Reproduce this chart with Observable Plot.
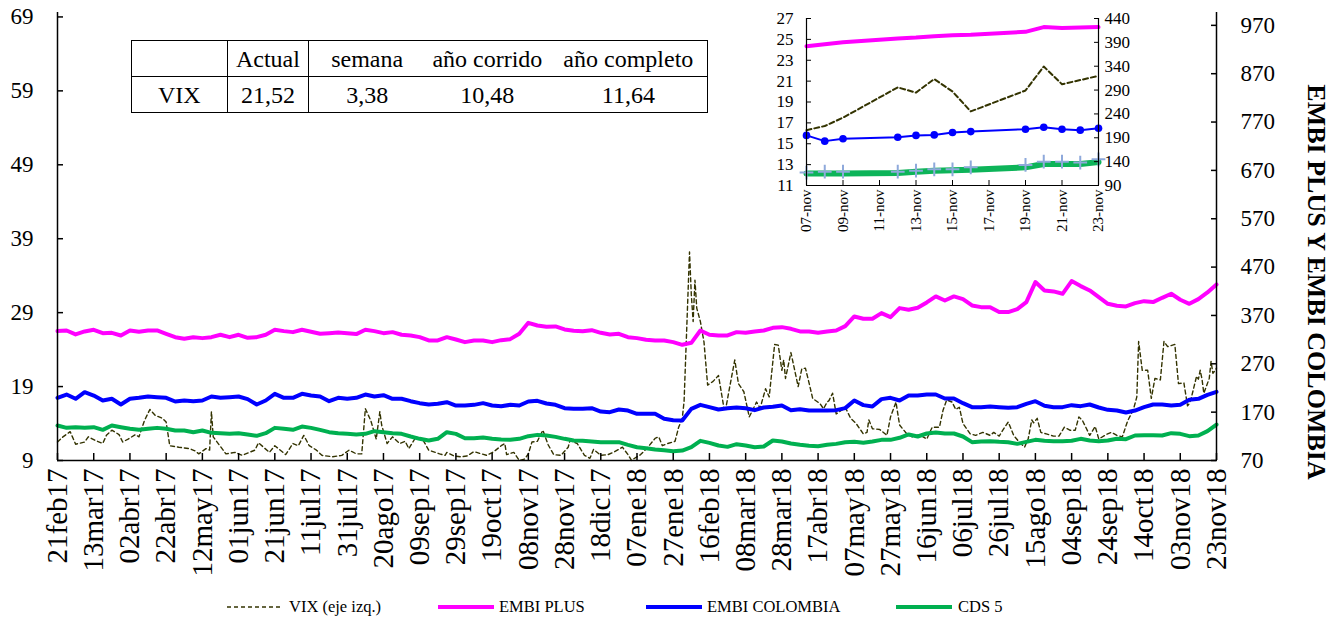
<!DOCTYPE html>
<html><head><meta charset="utf-8">
<script src="https://cdn.jsdelivr.net/npm/d3@7"></script>
<script src="https://cdn.jsdelivr.net/npm/@observablehq/plot@0.6"></script>
<style>
body{margin:0;background:#fff;font-family:"Liberation Serif","Times New Roman",serif;color:#000}
#wrap{position:relative;width:1339px;height:621px;overflow:hidden;background:#fff}
#main{position:absolute;left:0;top:0}
#inset{position:absolute;left:760px;top:0}
#tbl{position:absolute;left:131px;top:40px;width:577px;height:73px;border-collapse:collapse;border:1.5px solid #000;font-size:24px;background:#fff}
#tbl td{text-align:center;padding:0;line-height:34px;white-space:nowrap}
#rtitle{position:absolute;left:1316px;top:282px;transform:translate(-50%,-50%) rotate(90deg);font-weight:bold;font-size:26px;white-space:nowrap}
.lg{position:absolute;top:597px;height:20px}
.lgt{position:absolute;top:597px;font-size:16.5px;line-height:20px;white-space:nowrap}
</style></head><body><div id="wrap"></div>
<script>
// ---------------- DATA ----------------
const gridDates = ["2017-02-21","2017-02-26","2017-03-03","2017-03-08","2017-03-13","2017-03-18","2017-03-23","2017-03-28","2017-04-02","2017-04-07","2017-04-12","2017-04-17","2017-04-22","2017-04-27","2017-05-02","2017-05-07","2017-05-12","2017-05-17","2017-05-22","2017-05-27","2017-06-01","2017-06-06","2017-06-11","2017-06-16","2017-06-21","2017-06-26","2017-07-01","2017-07-06","2017-07-11","2017-07-16","2017-07-21","2017-07-26","2017-07-31","2017-08-05","2017-08-10","2017-08-15","2017-08-20","2017-08-25","2017-08-30","2017-09-04","2017-09-09","2017-09-14","2017-09-19","2017-09-24","2017-09-29","2017-10-04","2017-10-09","2017-10-14","2017-10-19","2017-10-24","2017-10-29","2017-11-03","2017-11-08","2017-11-13","2017-11-18","2017-11-23","2017-11-28","2017-12-03","2017-12-08","2017-12-13","2017-12-18","2017-12-23","2017-12-28","2018-01-02","2018-01-07","2018-01-12","2018-01-17","2018-01-22","2018-01-27","2018-02-01","2018-02-06","2018-02-11","2018-02-16","2018-02-21","2018-02-26","2018-03-03","2018-03-08","2018-03-13","2018-03-18","2018-03-23","2018-03-28","2018-04-02","2018-04-07","2018-04-12","2018-04-17","2018-04-22","2018-04-27","2018-05-02","2018-05-07","2018-05-12","2018-05-17","2018-05-22","2018-05-27","2018-06-01","2018-06-06","2018-06-11","2018-06-16","2018-06-21","2018-06-26","2018-07-01","2018-07-06","2018-07-11","2018-07-16","2018-07-21","2018-07-26","2018-07-31","2018-08-05","2018-08-10","2018-08-15","2018-08-20","2018-08-25","2018-08-30","2018-09-04","2018-09-09","2018-09-14","2018-09-19","2018-09-24","2018-09-29","2018-10-04","2018-10-09","2018-10-14","2018-10-19","2018-10-24","2018-10-29","2018-11-03","2018-11-08","2018-11-13","2018-11-18","2018-11-23"];

const embiPlus = [337.6,338.9,330.7,336.9,340.3,333.4,334.1,328.6,338.9,336.2,338.9,338.9,332.0,325.1,321.7,325.1,323.1,325.1,330.0,325.1,330.0,323.8,325.1,330.0,340.3,337.6,335.5,340.3,336.2,332.0,333.4,334.8,333.4,331.4,340.3,337.6,333.4,335.5,330.0,328.6,325.1,318.2,318.2,
325.1,320.3,314.8,318.2,318.2,314.8,318.9,321.0,332.0,354.8,349.3,346.5,347.2,341.0,338.2,337.5,339.6,334.1,330.6,332.0,325.1,323.1,319.6,318.2,318.2,314.8,309.3,313.4,338.9,330.0,328.6,328.6,335.5,334.1,336.9,338.9,344.4,345.8,342.4,336.9,336.9,334.1,336.9,
339.0,347.9,367.9,363.1,363.1,374.8,366.5,385.2,381.7,385.9,396.9,409.3,401.0,409.3,403.8,390.7,387.2,387.2,376.9,376.9,383.1,397.6,439.0,421.7,419.7,414.8,441.0,430.7,421.7,407.9,394.1,390.0,388.6,395.5,399.6,397.6,406.5,414.8,402.4,394.1,403.8,417.6,434.1];

const embiCol = [199.6,206.5,197.6,211.3,204.4,194.1,197.6,185.8,197.6,199.6,202.4,201.0,199.6,192.0,194.1,192.7,194.1,202.4,199.6,201.0,202.4,196.9,185.8,194.1,207.9,199.6,199.6,207.9,204.4,202.4,192.7,199.6,197.6,199.6,206.5,202.4,205.1,197.6,197.6,192.7,188.6,185.8,187.2,
190.6,183.7,183.7,185.1,188.6,183.7,182.4,185.1,183.7,192.0,193.4,187.9,185.1,178.2,176.8,176.8,178.2,171.3,170.0,175.5,173.4,166.5,166.5,166.5,156.2,153.4,152.7,176.8,185.1,180.3,175.5,178.2,179.6,178.2,174.1,179.6,181.0,183.7,174.1,176.2,173.4,173.4,173.4,
174.1,178.3,194.1,184.5,181.7,196.9,199.6,194.1,204.5,204.5,206.5,206.5,198.3,198.3,188.6,180.3,180.3,181.7,180.3,178.9,180.3,187.2,192.7,183.1,180.3,180.3,184.5,182.4,185.8,179.6,174.8,173.4,169.3,173.4,180.3,185.8,185.8,183.8,185.2,195.5,197.6,205.8,212.0];

const cds5 = [142.4,137.5,138.9,137.5,138.9,133.4,142.4,138.9,135.5,133.4,135.5,137.5,135.5,132.0,132.0,128.6,132.0,127.2,126.5,125.1,126.5,123.7,121.0,126.5,137.5,135.5,133.4,140.3,137.5,133.4,128.6,126.5,125.1,123.7,125.1,130.6,128.6,126.5,125.1,119.6,114.8,111.3,114.8,
128.6,125.1,116.1,116.1,117.5,114.8,113.4,112.7,114.8,120.3,123.0,121.7,118.9,114.8,111.3,110.6,109.3,107.9,107.9,107.9,102.4,97.5,95.5,92.7,91.3,89.3,90.6,97.5,110.6,106.5,101.0,98.2,103.7,101.0,97.5,98.9,111.3,109.3,105.1,102.4,100.3,99.6,102.4,
104.4,107.9,108.6,106.5,109.3,112.7,112.7,116.9,123.8,119.6,125.8,127.9,125.8,125.8,119.6,107.9,109.3,110.0,108.6,107.9,104.4,108.6,112.7,110.7,110.0,110.0,110.7,114.8,111.3,110.0,111.3,114.8,114.1,121.7,122.4,122.4,121.7,126.5,125.1,120.3,121.7,130.7,144.4];

const vixDates = ["2017-02-21","2017-02-24","2017-02-28","2017-03-03","2017-03-08","2017-03-10","2017-03-14","2017-03-18","2017-03-20","2017-03-23","2017-03-27","2017-03-29","2017-04-01","2017-04-05","2017-04-07","2017-04-10","2017-04-13","2017-04-16","2017-04-20","2017-04-22","2017-04-24","2017-04-29","2017-05-05","2017-05-08","2017-05-10","2017-05-14","2017-05-16","2017-05-17","2017-05-18","2017-05-25","2017-05-30","2017-06-03","2017-06-10","2017-06-12","2017-06-18","2017-06-21","2017-06-27","2017-07-01","2017-07-04","2017-07-07","2017-07-10","2017-07-14","2017-07-17","2017-07-23","2017-07-28","2017-08-01","2017-08-05","2017-08-08","2017-08-10","2017-08-13","2017-08-16","2017-08-18","2017-08-19","2017-08-22","2017-08-25","2017-08-29","2017-09-01","2017-09-03","2017-09-07","2017-09-11","2017-09-14","2017-09-20","2017-09-23","2017-09-24","2017-09-28","2017-10-02","2017-10-05","2017-10-09","2017-10-13","2017-10-16","2017-10-20","2017-10-24","2017-10-26","2017-10-27","2017-10-31","2017-11-03","2017-11-06","2017-11-08","2017-11-10","2017-11-13","2017-11-16","2017-11-19","2017-11-22","2017-11-26","2017-11-30","2017-12-01","2017-12-05","2017-12-09","2017-12-12","2017-12-14","2017-12-18","2017-12-22","2017-12-25","2017-12-30","2018-01-02","2018-01-04","2018-01-05","2018-01-09","2018-01-13","2018-01-17","2018-01-19","2018-01-21","2018-01-24","2018-01-28","2018-01-30","2018-02-01","2018-02-02","2018-02-05","2018-02-06","2018-02-07","2018-02-08","2018-02-09","2018-02-11","2018-02-13","2018-02-15","2018-02-18","2018-02-21","2018-02-24","2018-02-25","2018-02-27","2018-03-02","2018-03-04","2018-03-07","2018-03-10","2018-03-14","2018-03-16","2018-03-19","2018-03-21","2018-03-24","2018-03-26","2018-03-28","2018-03-29","2018-03-30","2018-04-02","2018-04-06","2018-04-08","2018-04-10","2018-04-12","2018-04-14","2018-04-18","2018-04-20","2018-04-22","2018-04-23","2018-04-25","2018-04-27","2018-04-30","2018-05-02","2018-05-05","2018-05-08","2018-05-12","2018-05-14","2018-05-15","2018-05-17","2018-05-21","2018-05-25","2018-05-27","2018-05-30","2018-06-01","2018-06-05","2018-06-08","2018-06-12","2018-06-16","2018-06-19","2018-06-23","2018-06-25","2018-06-27","2018-06-30","2018-07-02","2018-07-04","2018-07-06","2018-07-10","2018-07-13","2018-07-17","2018-07-21","2018-07-23","2018-07-26","2018-07-29","2018-07-31","2018-08-03","2018-08-06","2018-08-09","2018-08-11","2018-08-13","2018-08-14","2018-08-16","2018-08-18","2018-08-21","2018-08-25","2018-08-28","2018-08-31","2018-09-03","2018-09-06","2018-09-08","2018-09-10","2018-09-14","2018-09-17","2018-09-19","2018-09-23","2018-09-26","2018-09-29","2018-10-02","2018-10-05","2018-10-08","2018-10-10","2018-10-11","2018-10-13","2018-10-16","2018-10-18","2018-10-20","2018-10-23","2018-10-25","2018-10-27","2018-10-31","2018-11-02","2018-11-05","2018-11-07","2018-11-08","2018-11-09","2018-11-12","2018-11-13","2018-11-14","2018-11-15","2018-11-16","2018-11-19","2018-11-20","2018-11-21","2018-11-22","2018-11-23"];
const vixValues = [11.5,12.2,12.9,11.2,11.5,12.2,11.7,11.3,12.4,13.1,12.5,11.5,11.9,12.5,12.2,14.4,15.9,15.1,14.7,14.2,11.0,10.8,10.6,10.3,9.9,10.6,10.4,15.6,12.2,9.9,10.1,9.7,10.4,11.4,10.1,11.0,9.8,11.3,11.0,12.4,11.0,10.4,9.7,9.5,9.7,10.4,9.9,9.9,16.0,14.4,11.9,15.6,13.8,11.3,12.2,11.3,11.6,10.6,12.2,11.7,10.4,9.9,9.7,10.1,9.6,9.5,9.6,10.2,9.9,9.7,10.2,11.0,11.3,9.8,10.1,9.0,9.2,9.9,11.5,11.6,13.1,11.1,9.8,9.7,10.8,11.7,11.3,9.7,9.3,10.5,9.7,9.8,10.1,10.8,9.8,9.0,9.2,9.8,10.8,12.0,12.2,11.0,11.3,11.6,13.5,14.7,17.0,37.2,31.4,27.8,33.4,29.6,27.8,25.0,19.2,19.7,20.5,16.1,16.0,18.7,22.6,19.4,18.3,14.9,16.9,16.1,18.7,17.6,24.7,24.6,21.2,22.6,20.1,23.6,19.0,21.4,21.5,19.5,17.4,16.7,16.0,16.9,17.1,18.1,15.3,15.8,16.2,14.7,14.0,12.6,12.8,14.5,13.3,13.2,12.4,14.9,16.9,13.8,12.6,12.2,12.5,11.9,13.5,13.5,15.8,17.2,16.9,15.9,16.2,14.0,12.6,12.4,12.8,12.4,12.8,12.3,13.5,14.2,12.4,11.5,10.8,11.9,14.5,14.1,14.7,12.8,12.6,12.3,12.3,13.5,13.1,13.1,14.9,14.4,12.4,13.6,11.9,12.5,12.8,12.4,12.2,14.4,15.8,17.6,25.1,21.2,21.2,17.4,20.1,19.9,25.1,24.4,24.7,19.4,19.5,16.4,16.7,17.4,20.4,20.0,21.2,20.0,18.1,20.1,22.4,20.8,21.1,21.5];

const leftTicks = [9, 19, 29, 39, 49, 59, 69];
const rightTicks = [70, 170, 270, 370, 470, 570, 670, 770, 870, 970];
const xTickDates = ["2017-02-21","2017-03-13","2017-04-02","2017-04-22","2017-05-12","2017-06-01","2017-06-21","2017-07-11","2017-07-31","2017-08-20","2017-09-09","2017-09-29","2017-10-19","2017-11-08","2017-11-28","2017-12-18","2018-01-07","2018-01-27","2018-02-16","2018-03-08","2018-03-28","2018-04-17","2018-05-07","2018-05-27","2018-06-16","2018-07-06","2018-07-26","2018-08-15","2018-09-04","2018-09-24","2018-10-14","2018-11-03","2018-11-23"];
const xTickLabels = ["21feb17","13mar17","02abr17","22abr17","12may17","01jun17","21jun17","11jul17","31jul17","20ago17","09sep17","29sep17","19oct17","08nov17","28nov17","18dic17","07ene18","27ene18","16feb18","08mar18","28mar18","17abr18","07may18","27may18","16jun18","06jul18","26jul18","15ago18","04sep18","24sep18","14oct18","03nov18","23nov18"];

// inset (last days of November 2018)
const insetDates = ["2018-11-07","2018-11-08","2018-11-09","2018-11-12","2018-11-13","2018-11-14","2018-11-15","2018-11-16","2018-11-19","2018-11-20","2018-11-21","2018-11-22","2018-11-23"];
const insetVix = [16.3,16.7,17.5,20.4,19.9,21.2,20.0,18.1,20.1,22.4,20.7,21.1,21.5];
const insetEmbiPlus = [382,386,390,398,400,403,405,406,412,422,420,421,422];
const insetEmbiCol = [195,183,188,191,195,196,201,203,208,212,208,206,210];
const insetCds = [115,115,115,116,119,121,122,123,128,135,135,135,139];
const insetCdsMarks = [117,119,119,119,121,124,124,128,133,140,140,138,145];
const insetLeftTicks = [11,13,15,17,19,21,23,25,27];
const insetRightTicks = [90,140,190,240,290,340,390,440];
const insetTickDates = ["2018-11-07","2018-11-09","2018-11-11","2018-11-13","2018-11-15","2018-11-17","2018-11-19","2018-11-21","2018-11-23"];
const insetTickLabels = ["07-nov","09-nov","11-nov","13-nov","15-nov","17-nov","19-nov","21-nov","23-nov"];

const tableHeader = ["", "Actual", "semana", "año corrido", "año completo"];
const tableRow = ["VIX", "21,52", "3,38", "10,48", "11,64"];

const legendItems = [
  {label: "VIX (eje izq.)", color: "#333300", dash: "4,3", width: 1.5},
  {label: "EMBI PLUS", color: "#FF00FF", dash: null, width: 4},
  {label: "EMBI COLOMBIA", color: "#0000FF", dash: null, width: 4},
  {label: "CDS 5", color: "#00B050", dash: null, width: 4}
];
const rightTitle = "EMBI PLUS Y EMBI COLOMBIA";

// ---------------- BUILD ----------------
const FONT = '"Liberation Serif","Times New Roman",serif';
const parse = s => new Date(s + "T00:00:00Z");
const K = 15.29;                       // right-axis units per left-axis unit
const R = r => 9 + (r - 70) / K;
const Rinv = v => 70 + (v - 9) * K;

const main = gridDates.map((d, i) => ({date: parse(d), plus: embiPlus[i], col: embiCol[i], cds: cds5[i]}));
const vix = vixDates.map((d, i) => ({date: parse(d), v: vixValues[i]}));
const xDomain = [parse(gridDates[0]), parse(gridDates[gridDates.length - 1])];
const xt = xTickDates.map(parse);
const xLabel = new Map(xt.map((d, i) => [+d, xTickLabels[i]]));
const AX = {stroke: "#000", strokeWidth: 1.5};

const chart = Plot.plot({
  width: 1339, height: 590,
  marginLeft: 57, marginRight: 123, marginTop: 12, marginBottom: 130,
  style: {fontFamily: FONT, color: "#000", background: "transparent", overflow: "visible"},
  x: {type: "utc", domain: xDomain},
  y: {domain: [9, 69.6]},
  marks: [
    Plot.lineY(vix, {x: "date", y: "v", stroke: "#333300", strokeWidth: 1.4, strokeDasharray: "4,3"}),
    Plot.lineY(main, {x: "date", y: d => R(d.cds), stroke: "#00B050", strokeWidth: 4, strokeLinejoin: "round"}),
    Plot.lineY(main, {x: "date", y: d => R(d.col), stroke: "#0000FF", strokeWidth: 4, strokeLinejoin: "round"}),
    Plot.lineY(main, {x: "date", y: d => R(d.plus), stroke: "#FF00FF", strokeWidth: 4, strokeLinejoin: "round"}),
    Plot.ruleX([xDomain[0]], AX),
    Plot.ruleX([xDomain[1]], AX),
    Plot.ruleY([9], AX),
    Plot.axisY(leftTicks, {anchor: "left", tickSize: 6, dx: 6, strokeWidth: 1.5, tickFormat: () => "", label: null}),
    Plot.axisY(leftTicks, {anchor: "left", tickSize: 0, tickPadding: 24, fontSize: 23, tickFormat: d => String(d), label: null}),
    Plot.axisY(rightTicks.map(R), {anchor: "right", tickSize: 6, dx: -6, strokeWidth: 1.5, tickFormat: () => "", label: null}),
    Plot.axisY(rightTicks.map(R), {anchor: "right", tickSize: 0, tickPadding: 24, fontSize: 23, tickFormat: v => String(Math.round(Rinv(v))), label: null}),
    Plot.axisX(xt, {anchor: "bottom", tickSize: 7, dy: -7, strokeWidth: 1.5, tickFormat: () => "", label: null}),
    Plot.axisX(xt, {anchor: "bottom", tickSize: 0, tickPadding: 8, tickRotate: -90, fontSize: 29, tickFormat: d => xLabel.get(+d), label: null})
  ]
});
chart.id = "main";

// inset
const RI = r => 11 + (r - 90) * 16 / 350;
const RIinv = v => 90 + (v - 11) * 350 / 16;
const ins = insetDates.map((d, i) => ({date: parse(d), vix: insetVix[i], plus: insetEmbiPlus[i], col: insetEmbiCol[i], cds: insetCds[i], cm: insetCdsMarks[i]}));
const ixDomain = [parse(insetDates[0]), parse(insetDates[insetDates.length - 1])];
const ixt = insetTickDates.map(parse);
const ixLabel = new Map(ixt.map((d, i) => [+d, insetTickLabels[i]]));
const AXi = {stroke: "#000", strokeWidth: 1.2};

const inset = Plot.plot({
  width: 375, height: 240,
  marginLeft: 46, marginRight: 37, marginTop: 18, marginBottom: 55,
  style: {fontFamily: FONT, color: "#000", background: "transparent", overflow: "visible"},
  x: {type: "utc", domain: ixDomain},
  y: {domain: [11, 27]},
  marks: [
    Plot.lineY(ins, {x: "date", y: d => RI(d.cds), stroke: "#00B050", strokeWidth: 6, strokeOpacity: 0.95}),
    Plot.dot(ins, {x: "date", y: d => RI(d.cm), symbol: "plus", r: 4.5, stroke: "#8EA9DB", strokeWidth: 2}),
    Plot.lineY(ins, {x: "date", y: d => RI(d.col), stroke: "#0000FF", strokeWidth: 2}),
    Plot.dot(ins, {x: "date", y: d => RI(d.col), r: 3.8, fill: "#0000FF"}),
    Plot.lineY(ins, {x: "date", y: d => RI(d.plus), stroke: "#FF00FF", strokeWidth: 4}),
    Plot.lineY(ins, {x: "date", y: "vix", stroke: "#333300", strokeWidth: 2, strokeDasharray: "5,3"}),
    Plot.ruleX([ixDomain[0]], AXi),
    Plot.ruleX([ixDomain[1]], AXi),
    Plot.ruleY([11], AXi),
    Plot.axisY(insetLeftTicks, {anchor: "left", tickSize: 5, dx: 5, tickFormat: () => "", label: null}),
    Plot.axisY(insetLeftTicks, {anchor: "left", tickSize: 0, tickPadding: 13, fontSize: 17, tickFormat: d => String(d), label: null}),
    Plot.axisY(insetRightTicks.map(RI), {anchor: "right", tickSize: 5, dx: -5, tickFormat: () => "", label: null}),
    Plot.axisY(insetRightTicks.map(RI), {anchor: "right", tickSize: 0, tickPadding: 6, fontSize: 17, tickFormat: v => String(Math.round(RIinv(v))), label: null}),
    Plot.axisX(ixt, {anchor: "bottom", tickSize: 5, dy: -5, tickFormat: () => "", label: null}),
    Plot.axisX(ixt, {anchor: "bottom", tickSize: 0, tickPadding: 4, tickRotate: -90, fontSize: 15, tickFormat: d => ixLabel.get(+d), label: null})
  ]
});
inset.id = "inset";

const wrap = document.getElementById("wrap");
wrap.appendChild(chart);
wrap.appendChild(inset);

// table
const colW = [96, 81, 117, 125, 158];
const tbl = document.createElement("table");
tbl.id = "tbl";
[tableHeader, tableRow].forEach((row, ri) => {
  const tr = document.createElement("tr");
  row.forEach((c, ci) => {
    const td = document.createElement("td");
    td.textContent = c;
    td.style.width = colW[ci] + "px";
    if (ri === 0) td.style.borderBottom = "1.5px solid #000";
    if (ci < 2) td.style.borderRight = "1.5px solid #000";
    tr.appendChild(td);
  });
  tbl.appendChild(tr);
});
wrap.appendChild(tbl);

// right axis title
const rt = document.createElement("div");
rt.id = "rtitle"; rt.textContent = rightTitle;
wrap.appendChild(rt);

// legend
const lgPos = [{s: 227, t: 289}, {s: 438, t: 499}, {s: 646, t: 707}, {s: 896, t: 958}];
legendItems.forEach((it, i) => {
  const svg = d3.create("svg").attr("class", "lg").attr("width", 56).attr("height", 20)
    .style("left", lgPos[i].s + "px");
  svg.append("line").attr("x1", 0).attr("x2", 56).attr("y1", 10).attr("y2", 10)
    .attr("stroke", it.color).attr("stroke-width", it.width)
    .attr("stroke-dasharray", it.dash);
  wrap.appendChild(svg.node());
  const t = document.createElement("div");
  t.className = "lgt"; t.textContent = it.label; t.style.left = lgPos[i].t + "px";
  wrap.appendChild(t);
});
</script></body></html>
